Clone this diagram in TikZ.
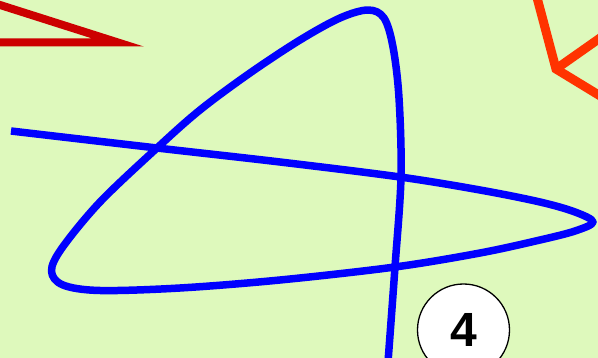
\documentclass[tikz,border=0pt]{standalone}
\usepackage{fontspec}
\setmainfont{Liberation Sans}
\definecolor{bg}{RGB}{222,249,188}
\definecolor{redline}{RGB}{204,0,0}
\definecolor{orangeline}{RGB}{255,51,0}
\definecolor{blueline}{RGB}{0,0,255}
\begin{document}
\begin{tikzpicture}[x=1pt,y=-1pt,
  redstroke/.style={draw=redline,line width=8pt,miter limit=20,line join=miter},
  orangestroke/.style={draw=orangeline,line width=9pt,line join=miter},
  bluestroke/.style={draw=blueline,line width=7.5pt,line join=round},
  numcircle/.style={circle,draw=black,line width=1.3pt,fill=white,minimum size=92pt,inner sep=0pt,font=\fontsize{48}{48}\selectfont\bfseries}]
\useasboundingbox (0,0) rectangle (598,358);
\clip (0,0) rectangle (598,358);
\fill[bg] (0,0) rectangle (598,358);
% red triangle
\draw[redstroke] (-60,-14.1) -- (118,42.5) -- (-60,42.5) -- cycle;
% orange shape
\draw[orangestroke] (620,24) -- (556,69);
\draw[orangestroke] (535,-10) -- (556,69) -- (620,108);
% blue curve
\draw[bluestroke] plot[smooth,tension=0.55] coordinates {
 (11,131) (157,148) (280,162) (400,177) (480,190) (540,202) (575,212) (593,222)
 (575,231) (540,240) (480,253) (395,267) (280,280) (180,288) (100,290.5) (63,285) (51.5,271)
 (62,248) (100,202) (157,148) (200,110) (250,73) (300,40) (340,18) (368,10) (384,18)
 (393,47) (399,98) (401,177) (395,267) (388,362)};
% numbered circle
\node[numcircle] (n4) at (463.5,330) {4};
\end{tikzpicture}
\end{document}
